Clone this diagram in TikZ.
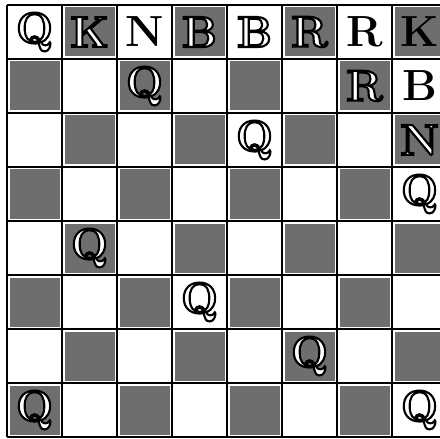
\documentclass[tikz,border=0pt]{standalone}
\usepackage{tikz}
\usetikzlibrary{positioning}
\definecolor{boardgray}{RGB}{110,110,110}
\newcommand{\hollow}[1]{\special{pdf:literal direct 1 g 0 G 2 Tr 1.5 w}#1\special{pdf:literal direct 0 g 0 G 0 Tr}}

\begin{document}
\begin{tikzpicture}[x=0.025cm,y=-0.025cm,
    piece/.style={font=\fontsize{31}{34}\selectfont\bfseries, inner sep=0pt}]
    \def\sx{55}
    \def\sy{54}
    \useasboundingbox (0,0) rectangle (440,439);
    \clip (0,0) rectangle (440,439);

    % Draw squares
    \foreach \r in {1,...,8} {
        \foreach \c in {1,...,8} {
            \coordinate (s\r\c) at ({7+(\c-0.5)*\sx}, {5+(\r-0.5)*\sy});
            \ifodd\numexpr\r+\c\relax
                \fill[boardgray] ({7+(\c-1)*\sx+2.5}, {5+(\r-1)*\sy+2.5}) rectangle ++(\sx-5, \sy-5);
            \fi
        }
    }
    % Draw grid
    \foreach \c in {0,...,8} {
        \draw[line width=1.8pt] ({7+\c*\sx}, 5) -- ({7+\c*\sx}, {5+8*\sy});
    }
    \foreach \r in {0,...,8} {
        \draw[line width=1.8pt] (7, {5+\r*\sy}) -- ({7+8*\sx}, {5+\r*\sy});
    }

    % Draw pieces
    \node[piece] (q11) at (s11) {\hollow{Q}};
    \node[piece] (k12) at (s12) {\hollow{K}};
    \node[piece] (n13) at (s13) {N};
    \node[piece] (b14) at (s14) {\hollow{B}};
    \node[piece] (b15) at (s15) {\hollow{B}};
    \node[piece] (r16) at (s16) {\hollow{R}};
    \node[piece] (r17) at (s17) {R};
    \node[piece] (k18) at (s18) {K};

    \node[piece] (q23) at (s23) {\hollow{Q}};
    \node[piece] (r27) at (s27) {\hollow{R}};
    \node[piece] (b28) at (s28) {B};

    \node[piece] (q35) at (s35) {\hollow{Q}};
    \node[piece] (n38) at (s38) {\hollow{N}};

    \node[piece] (q48) at (s48) {\hollow{Q}};

    \node[piece] (q52) at (s52) {\hollow{Q}};

    \node[piece] (q64) at (s64) {\hollow{Q}};

    \node[piece] (q76) at (s76) {\hollow{Q}};

    \node[piece] (q81) at (s81) {\hollow{Q}};
    \node[piece] (q88) at (s88) {\hollow{Q}};
\end{tikzpicture}
\end{document}
